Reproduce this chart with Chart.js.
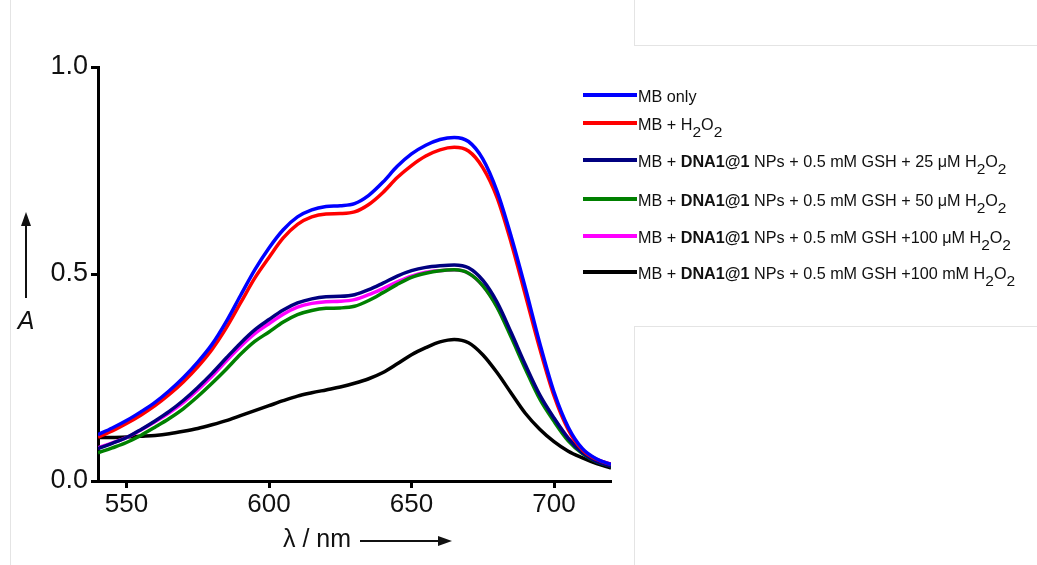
<!DOCTYPE html>
<html>
<head>
<meta charset="utf-8">
<script src="https://cdn.jsdelivr.net/npm/chart.js@4/dist/chart.umd.min.js"></script>
<style>
  body { margin: 0; background: #fff; }
  #wrap { position: relative; width: 1037px; height: 565px; overflow: hidden; }
  #grafico { position: absolute; left: 0; top: 0; }
  .borda { position: absolute; background: #e4e4e4; }
  #legenda { position: absolute; left: 583px; top: 0; font-family: "Liberation Sans", Arial, sans-serif; font-size: 16.2px; color: #111; }
  .item { position: absolute; left: 0; white-space: nowrap; height: 20px; }
  .item .traco { position: absolute; left: 0; width: 54px; height: 3.5px; }
  .item span.txt { position: absolute; left: 55px; top: -6px; }
  sub { font-size: 15.5px; vertical-align: -7px; line-height: 0; }
</style>
</head>
<body>
<div id="wrap">
  <canvas id="grafico" width="1037" height="565"></canvas>
  <div class="borda" style="left:10px;top:0;width:1px;height:565px"></div>
  <div class="borda" style="left:634px;top:0;width:1px;height:45px"></div>
  <div class="borda" style="left:634px;top:45px;width:403px;height:1px"></div>
  <div class="borda" style="left:634px;top:326px;width:403px;height:1px"></div>
  <div class="borda" style="left:634px;top:326px;width:1px;height:239px"></div>
  <div id="legenda"></div>
</div>
<script>
// comprimento de onda (nm), de 5 em 5
const lambda = [540, 545, 550, 555, 560, 565, 570, 575, 580, 585, 590, 595, 600, 605, 610, 615, 620, 625, 630,
                635, 640, 645, 650, 655, 660, 665, 670, 675, 680, 685, 690, 695, 700, 705, 710, 715, 720];

// absorbancia de cada amostra
const mbOnly   = [0.112, 0.128, 0.146, 0.167, 0.190, 0.218, 0.250, 0.287, 0.330, 0.385, 0.448, 0.510, 0.563, 0.607, 0.638, 0.655, 0.663, 0.665, 0.670,
                  0.690, 0.722, 0.760, 0.790, 0.811, 0.825, 0.830, 0.820, 0.778, 0.700, 0.590, 0.465, 0.333, 0.215, 0.130, 0.078, 0.053, 0.040];
const mbH2O2   = [0.106, 0.121, 0.139, 0.159, 0.182, 0.209, 0.240, 0.276, 0.318, 0.370, 0.430, 0.490, 0.540, 0.587, 0.620, 0.638, 0.645, 0.646, 0.650,
                  0.668, 0.697, 0.733, 0.762, 0.785, 0.800, 0.806, 0.797, 0.757, 0.685, 0.575, 0.448, 0.320, 0.206, 0.124, 0.075, 0.052, 0.040];
const gsh25uM  = [0.078, 0.091, 0.105, 0.124, 0.145, 0.168, 0.195, 0.226, 0.260, 0.297, 0.333, 0.365, 0.390, 0.413, 0.430, 0.440, 0.445, 0.446, 0.450,
                  0.462, 0.478, 0.495, 0.508, 0.516, 0.520, 0.522, 0.515, 0.485, 0.432, 0.358, 0.280, 0.208, 0.152, 0.103, 0.068, 0.047, 0.036];
const gsh50uM  = [0.068, 0.080, 0.093, 0.110, 0.130, 0.151, 0.175, 0.204, 0.236, 0.270, 0.306, 0.337, 0.360, 0.384, 0.402, 0.412, 0.417, 0.418, 0.422,
                  0.436, 0.455, 0.475, 0.492, 0.502, 0.508, 0.510, 0.502, 0.472, 0.420, 0.347, 0.270, 0.198, 0.144, 0.097, 0.066, 0.046, 0.036];
const gsh100uM = [0.080, 0.092, 0.105, 0.123, 0.143, 0.165, 0.190, 0.220, 0.253, 0.290, 0.325, 0.356, 0.380, 0.403, 0.420, 0.429, 0.433, 0.434, 0.438,
                  0.450, 0.465, 0.481, 0.495, 0.504, 0.508, 0.510, 0.502, 0.472, 0.422, 0.352, 0.276, 0.205, 0.151, 0.104, 0.073, 0.052, 0.041];
const gsh100mM = [0.105, 0.105, 0.106, 0.108, 0.110, 0.114, 0.120, 0.127, 0.136, 0.146, 0.158, 0.170, 0.182, 0.194, 0.205, 0.213, 0.220, 0.227, 0.236,
                  0.247, 0.262, 0.283, 0.305, 0.322, 0.336, 0.342, 0.334, 0.305, 0.262, 0.212, 0.163, 0.125, 0.095, 0.072, 0.056, 0.042, 0.031];

const xTicks = [550, 600, 650, 700];
const yTicks = [0.0, 0.5, 1.0];

const nomes = [
    'MB only',
    'MB + H<sub>2</sub>O<sub>2</sub>',
    'MB + <b>DNA1@1</b> NPs + 0.5 mM GSH + 25 \u03bcM H<sub>2</sub>O<sub>2</sub>',
    'MB + <b>DNA1@1</b> NPs + 0.5 mM GSH + 50 \u03bcM H<sub>2</sub>O<sub>2</sub>',
    'MB + <b>DNA1@1</b> NPs + 0.5 mM GSH +100 \u03bcM H<sub>2</sub>O<sub>2</sub>',
    'MB + <b>DNA1@1</b> NPs + 0.5 mM GSH +100 mM H<sub>2</sub>O<sub>2</sub>'
];
const series = [mbOnly, mbH2O2, gsh25uM, gsh50uM, gsh100uM, gsh100mM];
const cores = ['#0000ff', '#ff0000', '#000080', '#008000', '#ff00ff', '#000000'];
const linhaLegenda = [93, 121, 158, 197, 234, 270];

const fonte = '"Liberation Sans", Arial, sans-serif';

const titulos = {
    id: 'titulos',
    afterDraw(chart) {
        const ctx = chart.ctx;
        ctx.save();
        ctx.fillStyle = '#111';
        ctx.strokeStyle = '#111';
        // eixo x
        ctx.font = '25px ' + fonte;
        ctx.textAlign = 'right';
        ctx.textBaseline = 'middle';
        ctx.fillText('\u03bb / nm', 351, 540);
        ctx.lineWidth = 2;
        ctx.beginPath();
        ctx.moveTo(360, 541);
        ctx.lineTo(442, 541);
        ctx.stroke();
        ctx.beginPath();
        ctx.moveTo(452, 541);
        ctx.lineTo(438, 536);
        ctx.lineTo(438, 546);
        ctx.closePath();
        ctx.fill();
        // eixo y
        ctx.beginPath();
        ctx.moveTo(26, 298);
        ctx.lineTo(26, 222);
        ctx.stroke();
        ctx.beginPath();
        ctx.moveTo(26, 212);
        ctx.lineTo(21, 226);
        ctx.lineTo(31, 226);
        ctx.closePath();
        ctx.fill();
        ctx.font = 'italic 25px ' + fonte;
        ctx.textAlign = 'center';
        ctx.fillText('A', 26, 322);
        ctx.restore();
    }
};

const dados = {
    labels: lambda,
    datasets: series.map(function (s, i) {
        return {
            label: nomes[i].replace(/<[^>]+>/g, ''),
            data: s.map(function (v, j) { return { x: lambda[j], y: v }; }),
            borderColor: cores[i],
            borderWidth: 3.5,
            pointRadius: 0,
            fill: false,
            cubicInterpolationMode: 'monotone'
        };
    })
};

const config = {
    type: 'line',
    data: dados,
    options: {
        responsive: false,
        animation: false,
        layout: { padding: { left: 0, top: 67, right: 426, bottom: 0 } },
        plugins: {
            legend: { display: false },
            tooltip: { enabled: false }
        },
        scales: {
            x: {
                type: 'linear',
                min: 540,
                max: 720,
                afterBuildTicks: function (axis) { axis.ticks = xTicks.map(function (v) { return { value: v }; }); },
                afterFit: function (axis) { axis.height = 84; },
                border: { display: true, color: '#000', width: 3 },
                grid: { drawOnChartArea: false, drawTicks: true, tickLength: 7, tickWidth: 3, tickColor: '#000' },
                ticks: { color: '#111', font: { family: fonte, size: 26 }, padding: 1, maxRotation: 0 }
            },
            y: {
                min: 0,
                max: 1,
                afterBuildTicks: function (axis) { axis.ticks = yTicks.map(function (v) { return { value: v }; }); },
                afterFit: function (axis) { axis.width = 98; },
                border: { display: true, color: '#000', width: 3 },
                grid: { drawOnChartArea: false, drawTicks: true, tickLength: 7, tickWidth: 3, tickColor: '#000' },
                ticks: { color: '#111', font: { family: fonte, size: 27 }, padding: 3, callback: function (v) { return v.toFixed(1); } }
            }
        }
    },
    plugins: [titulos]
};

new Chart(document.getElementById('grafico'), config);

// legenda em html por causa do negrito e dos subscritos
const legenda = document.getElementById('legenda');
nomes.forEach(function (nome, i) {
    const item = document.createElement('div');
    item.className = 'item';
    item.style.top = linhaLegenda[i] + 'px';
    item.innerHTML = '<div class="traco" style="background:' + cores[i] + '"></div><span class="txt">' + nome + '</span>';
    legenda.appendChild(item);
});
</script>
</body>
</html>
